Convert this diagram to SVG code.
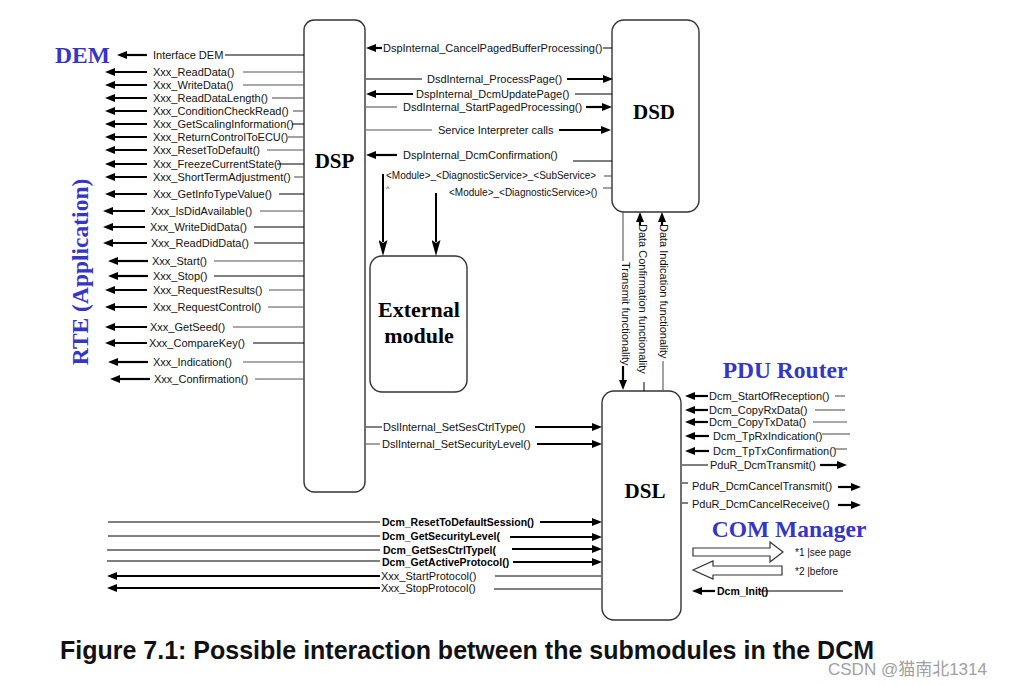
<svg xmlns="http://www.w3.org/2000/svg" width="1011" height="685" viewBox="0 0 1011 685">
<defs>
<marker id="a" viewBox="0 0 10 8" refX="2" refY="4" markerWidth="10" markerHeight="8" markerUnits="userSpaceOnUse" orient="auto"><path d="M0,0 L10,4 L0,8 z" fill="#000"/></marker>
<marker id="b" viewBox="0 0 16 9" refX="2" refY="4.5" markerWidth="16" markerHeight="9" markerUnits="userSpaceOnUse" orient="auto"><path d="M0,0 L16,4.5 L0,9 L3,4.5 z" fill="#000"/></marker>
</defs>
<style>
.t{font-family:"Liberation Sans",Arial,sans-serif;font-size:11px;fill:#111}
.s{font-size:10px}
.bd{font-family:"Liberation Sans",Arial,sans-serif;font-size:10.5px;font-weight:bold;fill:#000}
.ln{stroke:#555;stroke-width:1.1;fill:none}
.lk{stroke:#000;stroke-width:1;fill:none}
.ar{stroke:#000;stroke-width:2.2;fill:none;marker-end:url(#a)}
.av{stroke:#000;stroke-width:2;fill:none;marker-end:url(#b)}
.box{fill:#fff;stroke:#333;stroke-width:1.4}
.big{font-family:"Liberation Serif","Times New Roman",serif;font-weight:bold;font-size:21px;fill:#000}
.blue{font-family:"Liberation Serif","Times New Roman",serif;font-weight:bold;font-size:23.5px;fill:#3535c8}
.hol{fill:#fff;stroke:#333;stroke-width:1.2}
</style>
<rect width="1011" height="685" fill="#fff"/>

<g id="dsp"><rect class="box" x="304" y="20" width="61" height="472" rx="10"/><text class="big" x="334.5" y="168" text-anchor="middle">DSP</text></g>
<g id="dsd"><rect class="box" x="612" y="20" width="87" height="192" rx="12"/><text class="big" x="654" y="119" text-anchor="middle">DSD</text></g>
<g id="dsl"><rect class="box" x="602" y="391" width="79" height="229" rx="12"/><text class="big" x="645" y="498" text-anchor="middle">DSL</text></g>
<g id="external"><rect class="box" x="370" y="256" width="97" height="136" rx="12"/><text class="big" x="419" y="317" text-anchor="middle" style="font-size:22px">External</text><text class="big" x="419" y="343" text-anchor="middle" style="font-size:22px">module</text></g>
<g id="dem"><text class="blue" x="55" y="63">DEM</text></g>
<g id="rte"><text class="blue" transform="translate(88,272) rotate(-90)" text-anchor="middle">RTE (Application)</text></g>
<g id="pdu"><text class="blue" x="785" y="378" text-anchor="middle">PDU Router</text></g>
<g id="com"><text class="blue" x="789" y="537" text-anchor="middle">COM Manager</text>
<polygon class="hol" points="693,548 770,548 770,542 783,552 770,562 770,556 693,556"/>
<polygon class="hol" points="693,570 713,561 713,566 782,566 782,575 713,575 713,579"/>
<text class="t s" x="795" y="556">*1 |see page</text>
<text class="t s" x="795" y="575">*2 |before</text>
</g>

<g id="connectors">
<line class="ar" x1="147" y1="55" x2="125" y2="55"/><text class="t" x="153" y="59">Interface DEM</text><line class="lk" x1="225" y1="55" x2="304" y2="55"/>
<line class="ar" x1="147" y1="72" x2="113" y2="72"/><text class="t" x="153" y="76">Xxx_ReadData()</text><line class="ln" x1="243" y1="72" x2="304" y2="72"/>
<line class="ar" x1="147" y1="85" x2="113" y2="85"/><text class="t" x="153" y="89">Xxx_WriteData()</text><line class="ln" x1="243" y1="85" x2="304" y2="85"/>
<line class="ar" x1="147" y1="98" x2="113" y2="98"/><text class="t" x="153" y="102">Xxx_ReadDataLength()</text><line class="ln" x1="272" y1="98" x2="304" y2="98"/>
<line class="ar" x1="147" y1="111" x2="113" y2="111"/><text class="t" x="153" y="115">Xxx_ConditionCheckRead()</text><line class="ln" x1="293" y1="111" x2="304" y2="111"/>
<line class="ar" x1="147" y1="124" x2="113" y2="124"/><text class="t" x="153" y="128">Xxx_GetScalingInformation()</text><line class="lk" x1="292" y1="124" x2="304" y2="124"/>
<line class="ar" x1="147" y1="137" x2="113" y2="137"/><text class="t" x="153" y="141">Xxx_ReturnControlToECU()</text><line class="ln" x1="288" y1="137" x2="304" y2="137"/>
<line class="ar" x1="147" y1="150" x2="113" y2="150"/><text class="t" x="153" y="154">Xxx_ResetToDefault()</text><line class="ln" x1="267" y1="150" x2="304" y2="150"/>
<line class="ar" x1="147" y1="164" x2="113" y2="164"/><text class="t" x="153" y="168">Xxx_FreezeCurrentState()</text><line class="lk" x1="277" y1="164" x2="304" y2="164"/>
<line class="ar" x1="147" y1="177" x2="113" y2="177"/><text class="t" x="153" y="181">Xxx_ShortTermAdjustment()</text><line class="ln" x1="294" y1="177" x2="304" y2="177"/>
<line class="ar" x1="147" y1="194" x2="113" y2="194"/><text class="t" x="153" y="198">Xxx_GetInfoTypeValue()</text><line class="lk" x1="279" y1="194" x2="304" y2="194"/>
<line class="ar" x1="145" y1="211" x2="111" y2="211"/><text class="t" x="151" y="215">Xxx_IsDidAvailable()</text><line class="ln" x1="260" y1="211" x2="304" y2="211"/>
<line class="ar" x1="145" y1="227" x2="111" y2="227"/><text class="t" x="150" y="231">Xxx_WriteDidData()</text><line class="lk" x1="254" y1="227" x2="304" y2="227"/>
<line class="ar" x1="147" y1="243" x2="111" y2="243"/><text class="t" x="151" y="247">Xxx_ReadDidData()</text><line class="lk" x1="254" y1="243" x2="304" y2="243"/>
<line class="ar" x1="148" y1="261" x2="116" y2="261"/><text class="t" x="152" y="265">Xxx_Start()</text><line class="ln" x1="214" y1="261" x2="304" y2="261"/>
<line class="ar" x1="148" y1="276" x2="116" y2="276"/><text class="t" x="153" y="280">Xxx_Stop()</text><line class="lk" x1="214" y1="276" x2="304" y2="276"/>
<line class="ar" x1="147" y1="290" x2="113" y2="290"/><text class="t" x="153" y="294">Xxx_RequestResults()</text><line class="ln" x1="269" y1="290" x2="304" y2="290"/>
<line class="ar" x1="147" y1="307" x2="113" y2="307"/><text class="t" x="153" y="311">Xxx_RequestControl()</text><line class="ln" x1="268" y1="307" x2="304" y2="307"/>
<line class="ar" x1="147" y1="327" x2="113" y2="327"/><text class="t" x="150" y="331">Xxx_GetSeed()</text><line class="ln" x1="233" y1="327" x2="304" y2="327"/>
<line class="ar" x1="147" y1="343" x2="113" y2="343"/><text class="t" x="149" y="347">Xxx_CompareKey()</text><line class="lk" x1="253" y1="343" x2="304" y2="343"/>
<line class="ar" x1="148" y1="362" x2="116" y2="362"/><text class="t" x="153" y="366">Xxx_Indication()</text><line class="ln" x1="243" y1="362" x2="304" y2="362"/>
<line class="ar" x1="150" y1="379" x2="118" y2="379"/><text class="t" x="154" y="383">Xxx_Confirmation()</text><line class="ln" x1="255" y1="379" x2="304" y2="379"/>

<line class="ar" x1="382" y1="48" x2="374" y2="48"/><text class="t" x="383" y="52">DspInternal_CancelPagedBufferProcessing()</text><line class="lk" x1="603" y1="48" x2="612" y2="48"/>
<line class="lk" x1="366" y1="79" x2="422" y2="79"/><text class="t" x="427" y="83">DsdInternal_ProcessPage()</text><line class="ar" x1="567" y1="79" x2="605" y2="79"/>
<line class="ar" x1="413" y1="94" x2="374" y2="94"/><text class="t" x="416" y="98">DspInternal_DcmUpdatePage()</text><line class="lk" x1="575" y1="94" x2="612" y2="94"/>
<line class="ln" x1="366" y1="107" x2="397" y2="107"/><text class="t" x="403" y="111">DsdInternal_StartPagedProcessing()</text><line class="ar" x1="586" y1="107" x2="604" y2="107"/>
<line class="ln" x1="366" y1="130" x2="432" y2="130"/><text class="t" x="438" y="134">Service Interpreter calls</text><line class="ar" x1="559" y1="130" x2="603" y2="130"/>
<line class="ar" x1="397" y1="155" x2="374" y2="155"/><text class="t" x="403" y="159">DspInternal_DcmConfirmation()</text><line class="lk" x1="573" y1="161" x2="612" y2="161"/>
<text class="t s" x="386" y="179">&lt;Module&gt;_&lt;DiagnosticService&gt;_&lt;SubService&gt;</text><line class="ln" x1="604" y1="176" x2="612" y2="176"/>
<text class="t" x="386" y="191" style="font-size:7px">^</text>
<text class="t s" x="449" y="196">&lt;Module&gt;_&lt;DiagnosticService&gt;()</text><line class="ln" x1="603" y1="188" x2="612" y2="188"/>
<line class="av" x1="383" y1="174" x2="383" y2="242"/>
<line class="av" x1="436" y1="193" x2="436" y2="242"/>

<line class="lk" x1="366" y1="427" x2="382" y2="427"/><text class="t" x="383" y="431">DslInternal_SetSesCtrlType()</text><line class="ar" x1="535" y1="427" x2="594" y2="427"/>
<line class="ln" x1="366" y1="444" x2="380" y2="444"/><text class="t" x="382" y="448">DslInternal_SetSecurityLevel()</text><line class="ar" x1="537" y1="444" x2="594" y2="444"/>

<line class="ln" x1="623" y1="212" x2="623" y2="261"/>
<text class="t" transform="translate(621.5,262) rotate(90)">Transmit functionality</text>
<line class="ar" x1="623" y1="366" x2="623" y2="382"/>
<line class="ar" x1="640" y1="225" x2="640" y2="220"/>
<text class="t" transform="translate(638.5,224) rotate(90)">Data Confirmation functionality</text>
<line class="lk" x1="644" y1="382" x2="644" y2="391"/>
<line class="ar" x1="662" y1="225" x2="662" y2="220"/>
<text class="t" transform="translate(660,224) rotate(90)">Data Indication functionality</text>
<line class="ln" x1="663" y1="361" x2="663" y2="391"/>

<line class="ar" x1="708" y1="396" x2="693" y2="396"/><text class="t" x="709" y="400">Dcm_StartOfReception()</text><line class="ln" x1="835" y1="396" x2="845" y2="396"/>
<line class="ar" x1="708" y1="410" x2="693" y2="410"/><text class="t" x="709" y="414">Dcm_CopyRxData()</text><line class="ln" x1="815" y1="410" x2="845" y2="410"/>
<line class="ar" x1="708" y1="422" x2="693" y2="422"/><text class="t" x="709" y="426">Dcm_CopyTxData()</text><line class="ln" x1="813" y1="422" x2="847" y2="422"/>
<line class="ar" x1="709" y1="436" x2="693" y2="436"/><text class="t" x="713" y="440">Dcm_TpRxIndication()</text><line class="ln" x1="822" y1="434" x2="850" y2="434"/>
<line class="ar" x1="709" y1="451" x2="693" y2="451"/><text class="t" x="713" y="455">Dcm_TpTxConfirmation()</text><line class="ln" x1="835" y1="449" x2="847" y2="449"/>
<line class="lk" x1="682" y1="465" x2="708" y2="465"/><text class="t" x="710" y="469">PduR_DcmTransmit()</text><line class="ar" x1="820" y1="465" x2="839" y2="465"/>
<line class="lk" x1="682" y1="483" x2="688" y2="483"/><text class="t" x="692" y="490">PduR_DcmCancelTransmit()</text><line class="ar" x1="838" y1="487" x2="853" y2="487"/>
<line class="lk" x1="682" y1="503" x2="688" y2="503"/><text class="t" x="692" y="508">PduR_DcmCancelReceive()</text><line class="ar" x1="838" y1="505" x2="853" y2="505"/>

<line class="ar" x1="715" y1="591" x2="700" y2="591"/><line class="lk" x1="760" y1="591" x2="843" y2="591"/><text class="bd" x="717" y="595">Dcm_Init()</text>

<line class="lk" x1="108" y1="522" x2="380" y2="522"/><text class="bd" x="382" y="526">Dcm_ResetToDefaultSession()</text><line class="ar" x1="540" y1="522" x2="594" y2="522"/>
<line class="lk" x1="108" y1="536" x2="380" y2="536"/><text class="bd" x="382" y="540">Dcm_GetSecurityLevel(</text><line class="ar" x1="510" y1="537" x2="594" y2="537"/>
<line class="lk" x1="107" y1="550" x2="380" y2="550"/><text class="bd" x="383" y="554">Dcm_GetSesCtrlTypel(</text><line class="ar" x1="512" y1="549" x2="594" y2="549"/>
<line class="lk" x1="107" y1="561" x2="380" y2="561"/><text class="bd" x="382" y="566">Dcm_GetActiveProtocol()</text><line class="ar" x1="513" y1="562" x2="594" y2="562"/>
<line class="ar" x1="380" y1="576" x2="115" y2="576"/><text class="t" x="381" y="580">Xxx_StartProtocol()</text><line class="lk" x1="495" y1="576" x2="601" y2="576"/>
<line class="ar" x1="380" y1="588" x2="115" y2="588"/><text class="t" x="381" y="592">Xxx_StopProtocol()</text><line class="lk" x1="494" y1="589" x2="601" y2="589"/>
</g>

<text x="60" y="659" style="font-family:'Liberation Sans',Arial,sans-serif;font-weight:bold;font-size:25px;fill:#111">Figure 7.1: Possible interaction between the submodules in the DCM</text>
<text x="828" y="675" style="font-family:'Liberation Sans','Noto Sans CJK SC',sans-serif;font-size:17px;fill:#a0a0a0">CSDN @猫南北1314</text>
</svg>
